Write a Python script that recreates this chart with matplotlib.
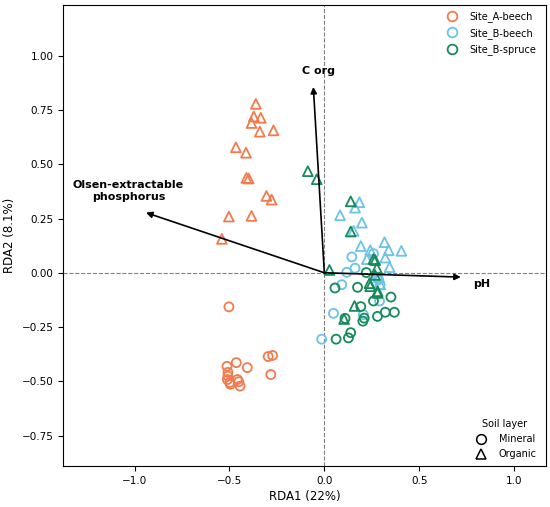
import matplotlib
matplotlib.use("Agg")
import matplotlib.pyplot as plt
from matplotlib.lines import Line2D

# sample scores (RDA1, RDA2)
a_org_x = [-0.361, -0.372, -0.335, -0.384, -0.340, -0.268, -0.466, -0.413,
           -0.411, -0.399, -0.305, -0.278, -0.503, -0.384, -0.540]
a_org_y = [0.778, 0.720, 0.714, 0.690, 0.650, 0.656, 0.578, 0.553,
           0.437, 0.434, 0.354, 0.337, 0.259, 0.262, 0.156]
a_min_x = [-0.503, -0.513, -0.464, -0.406, -0.508, -0.508, -0.511, -0.495,
           -0.458, -0.451, -0.444, -0.499, -0.296, -0.273, -0.282]
a_min_y = [-0.157, -0.431, -0.414, -0.437, -0.459, -0.476, -0.492, -0.514,
           -0.492, -0.502, -0.522, -0.506, -0.386, -0.381, -0.469]

bb_min_x = [0.145, 0.259, 0.118, 0.162, 0.092, 0.279, 0.294, 0.291,
            0.206, 0.048, -0.014, 0.286]
bb_min_y = [0.073, 0.088, 0.002, 0.021, -0.055, -0.025, -0.055, -0.130,
            -0.193, -0.187, -0.306, -0.032]
bb_org_x = [0.185, 0.162, 0.083, 0.198, 0.154, 0.192, 0.242, 0.317,
            0.339, 0.406, 0.321, 0.224, 0.344, 0.295, 0.288]
bb_org_y = [0.325, 0.300, 0.265, 0.231, 0.193, 0.123, 0.104, 0.141,
            0.104, 0.101, 0.070, 0.063, 0.026, -0.054, -0.020]

bs_min_x = [0.056, 0.175, 0.221, 0.351, 0.259, 0.192, 0.369, 0.321,
            0.280, 0.210, 0.203, 0.109, 0.139, 0.127, 0.062]
bs_min_y = [-0.070, -0.067, 0.001, -0.112, -0.130, -0.156, -0.182, -0.182,
            -0.201, -0.209, -0.223, -0.210, -0.276, -0.300, -0.306]
bs_org_x = [-0.087, -0.040, 0.139, 0.139, 0.259, 0.027, 0.268, 0.277,
            0.238, 0.242, 0.280, 0.159, 0.104, 0.267, 0.281]
bs_org_y = [0.468, 0.431, 0.329, 0.190, 0.063, 0.013, 0.058, 0.021,
            -0.048, -0.062, -0.093, -0.153, -0.213, -0.010, -0.085]

# environmental vectors
env_names = ["C org", "Olsen-extractable\nphosphorus", "pH"]
env_x = [-0.058, -0.940, 0.719]
env_y = [0.856, 0.277, -0.020]
lab_x = [-0.032, -1.033, 0.830]
lab_y = [0.929, 0.378, -0.052]

sites = ["Site_A-beech", "Site_B-beech", "Site_B-spruce"]
colors = ["#F47A4E", "#6CC3E8", "#178A5B"]

fig = plt.figure(figsize=(5.5, 5.07), dpi=100)
ax = fig.add_axes([0.115, 0.081, 0.878, 0.9097])

ax.axhline(0, color="grey", ls="--", lw=0.8, zorder=1)
ax.axvline(0, color="grey", ls="--", lw=0.8, zorder=1)

groups = [(a_min_x, a_min_y, a_org_x, a_org_y),
          (bb_min_x, bb_min_y, bb_org_x, bb_org_y),
          (bs_min_x, bs_min_y, bs_org_x, bs_org_y)]
for (mx, my, ox, oy), c in zip(groups, colors):
    ax.scatter(mx, my, marker="o", s=42, facecolors="none", edgecolors=c, linewidths=1.3, zorder=3)
    ax.scatter(ox, oy, marker="^", s=50, facecolors="none", edgecolors=c, linewidths=1.3, zorder=3)

for name, x, y, lx, ly in zip(env_names, env_x, env_y, lab_x, lab_y):
    ax.annotate("", xy=(x, y), xytext=(0, 0),
                arrowprops=dict(arrowstyle="-|>", color="black", lw=1.2,
                                mutation_scale=9, shrinkA=0, shrinkB=0), zorder=4)
    ax.text(lx, ly, name, fontsize=8, fontweight="bold", ha="center", va="center",
            multialignment="center")

ax.set_xlim(-1.376, 1.169)
ax.set_ylim(-0.89, 1.235)
ax.set_xticks([-1.0, -0.5, 0.0, 0.5, 1.0])
ax.set_yticks([-0.75, -0.5, -0.25, 0.0, 0.25, 0.5, 0.75, 1.0])
ax.tick_params(labelsize=7.5)
ax.set_xlabel("RDA1 (22%)", fontsize=8.5, labelpad=3)
ax.set_ylabel("RDA2 (8.1%)", fontsize=8.5)

site_handles = [Line2D([], [], ls="none", marker="o", markersize=7, markerfacecolor="none",
                       markeredgecolor=c, markeredgewidth=1.3) for c in colors]
leg1 = ax.legend(site_handles, sites, loc="upper right", bbox_to_anchor=(0.993, 1.0),
                 frameon=False, fontsize=7, handletextpad=0.8, borderaxespad=0.3,
                 labelspacing=0.55)
ax.add_artist(leg1)

layer_handles = [Line2D([], [], ls="none", marker="o", markersize=7, markerfacecolor="none",
                        markeredgecolor="black", markeredgewidth=1.1),
                 Line2D([], [], ls="none", marker="^", markersize=7, markerfacecolor="none",
                        markeredgecolor="black", markeredgewidth=1.1)]
ax.legend(layer_handles, ["Mineral", "Organic"], title="Soil layer", loc="lower right",
          bbox_to_anchor=(0.995, 0.0), frameon=False, fontsize=7, title_fontsize=7,
          handletextpad=0.8, borderaxespad=0.3)

fig.savefig("out.png", dpi=100)
